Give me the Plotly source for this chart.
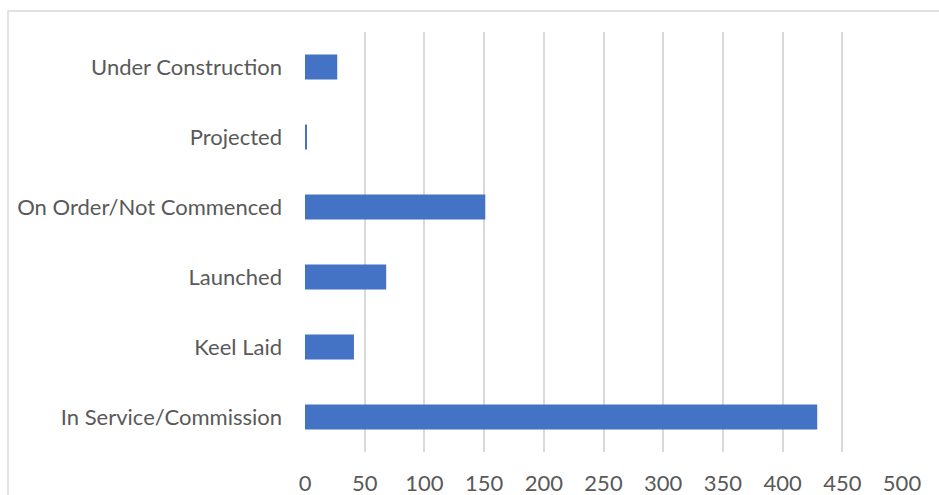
import plotly.graph_objects as go

categories = ["In Service/Commission", "Keel Laid", "Launched",
              "On Order/Not Commenced", "Projected", "Under Construction"]
values = [429, 41, 68, 151, 1.5, 27]
x_ticks = [0, 50, 100, 150, 200, 250, 300, 350, 400, 450, 500]

W, H = 939, 495
L, R, T, B = 305, 37, 32, 43
pw = W - L - R
ph = H - T - B

fig = go.Figure(go.Bar(
    y=categories, x=values, orientation="h",
    marker=dict(color="#4472C4", line=dict(width=0)),
))

font_family = "Lato, 'Open Sans', sans-serif"
fig.update_layout(
    width=W, height=H,
    margin=dict(l=L, r=R, t=T, b=B, autoexpand=False),
    plot_bgcolor="white", paper_bgcolor="white",
    bargap=0.64, showlegend=False,
    font=dict(family=font_family, size=22, color="#595959"),
    xaxis=dict(range=[0, 500], tickvals=x_ticks, showgrid=True,
               gridcolor="#d9d9d9", gridwidth=1.5, zeroline=False,
               showline=False, ticks="", ticklabelstandoff=16,
               automargin=False),
    yaxis=dict(showgrid=False, zeroline=False, showline=False, ticks="",
               ticklabelstandoff=22, automargin=False,
               categoryorder="array", categoryarray=categories),
    shapes=[dict(type="rect", xref="paper", yref="paper",
                 x0=(8 - L) / pw, x1=(W + 20 - L) / pw,
                 y0=-(B + 20) / ph, y1=(H - B - 11) / ph,
                 line=dict(color="#d9d9d9", width=1.5),
                 fillcolor="rgba(0,0,0,0)", layer="below")],
)
fig.write_html("out.html")
